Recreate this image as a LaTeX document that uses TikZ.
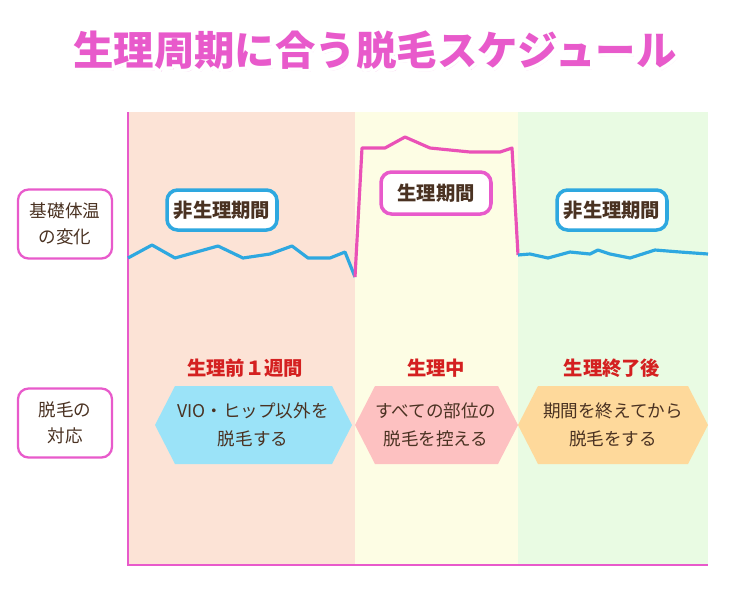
\documentclass[tikz,border=0pt]{standalone}
\usepackage{fontspec}
\setmainfont{Noto Sans CJK JP}
\usepackage{tikz}
\usetikzlibrary{positioning, calc}
\definecolor{pinkline}{HTML}{E85ACB}
\definecolor{tempblue}{HTML}{2EA8E0}
\definecolor{textbrown}{HTML}{4A3222}
\definecolor{phasered}{HTML}{D42020}
\tikzset{%
  base/.style = {rectangle, rounded corners=6pt, draw, line width=2pt, fill=white, text=textbrown, font=\bfseries\fontsize{11}{13}\selectfont, align=center},
  sidebox/.style = {base, draw=pinkline, line width=1.3pt, minimum width=1.88cm, minimum height=1.38cm, font=\fontsize{10}{15}\selectfont},
  offbox/.style = {base, draw=tempblue, minimum width=2.2cm, minimum height=0.8cm},
  onbox/.style = {base, draw=pinkline, minimum width=2.2cm, minimum height=0.84cm},
  phase/.style = {text=phasered, font=\bfseries\fontsize{11}{13}\selectfont},
  titlefont/.style = {font=\bfseries\fontsize{23}{26}\selectfont},
  hexa/.style = {draw=none, text=textbrown, align=center, font=\fontsize{10}{16}\selectfont, inner sep=0pt}
}
\newcommand{\titletext}{生理周期に合う脱毛スケジュール}
\begin{document}
\begin{tikzpicture}[x=0.02cm, y=-0.02cm]
  \useasboundingbox (0,0) rectangle (750,600);
  % background columns
  \fill[fill={rgb,255:red,252;green,227;blue,214}] (128,112) rectangle (355,565);
  \fill[fill={rgb,255:red,253;green,253;blue,228}] (355,112) rectangle (518,565);
  \fill[fill={rgb,255:red,233;green,251;blue,227}] (518,112) rectangle (708,565);
  \draw[pinkline, line width=1.5pt] (128,112) -- (128,565) -- (708,565);
  % title with white outline
  \node[titlefont, text=pinkline!25] (TitleShadow) at (377,53) {\titletext};
  \foreach \a in {0,30,...,330}
    \node[titlefont, text=white] at ($(375,50)+(\a:3.5)$) {\titletext};
  \node[titlefont, text=pinkline] (Title) at (375,50) {\titletext};
  % side labels
  \node[sidebox] (Temp) at (65,224) {基礎体温\\の変化};
  \node[sidebox] (Care) at (65,423) {脱毛の\\対応};
  % temperature curve
  \draw[tempblue, line width=1.8pt, line join=round] (128,258) -- (152,245) -- (175,258) -- (218,246) -- (243,258) -- (270,254) -- (292,246) -- (308,258) -- (330,258) -- (345,252) -- (355,277);
  \draw[pinkline!90!red, line width=1.8pt, line join=round] (355,277) -- (362,148) -- (385,148) -- (405,137) -- (430,148) -- (470,152) -- (500,152) -- (512,148) -- (518,255);
  \draw[tempblue, line width=1.8pt, line join=round] (518,255) -- (530,254) -- (548,258) -- (570,252) -- (590,254) -- (598,250) -- (610,254) -- (630,258) -- (655,250) -- (680,252) -- (708,254);
  % period boxes
  \node[offbox] (OffBefore) at (222,210) {非生理期間};
  \node[onbox] (OnPeriod) at (436,193) {生理期間};
  \node[offbox] (OffAfter) at (612,210) {非生理期間};
  % phases
  \node[phase] (PhaseBefore) at (245,368) {生理前１週間};
  \node[phase] (PhaseDuring) at (436,368) {生理中};
  \node[phase] (PhaseAfter) at (612,368) {生理終了後};
  \fill[fill={rgb,255:red,155;green,227;blue,248}] (155,425) -- (175,386) -- (332,386) -- (352,425) -- (332,464) -- (175,464) -- cycle;
  \fill[fill={rgb,255:red,253;green,193;blue,193}] (355,425) -- (375,386) -- (498,386) -- (518,425) -- (498,464) -- (375,464) -- cycle;
  \fill[fill={rgb,255:red,254;green,217;blue,155}] (518,425) -- (538,386) -- (688,386) -- (708,425) -- (688,464) -- (538,464) -- cycle;
  \node[hexa] (CareBefore) at (253,425) {VIO・ヒップ以外を\\脱毛する};
  \node[hexa] (CareDuring) at (436,425) {すべての部位の\\脱毛を控える};
  \node[hexa] (CareAfter) at (613,425) {期間を終えてから\\脱毛をする};
\end{tikzpicture}
\end{document}
